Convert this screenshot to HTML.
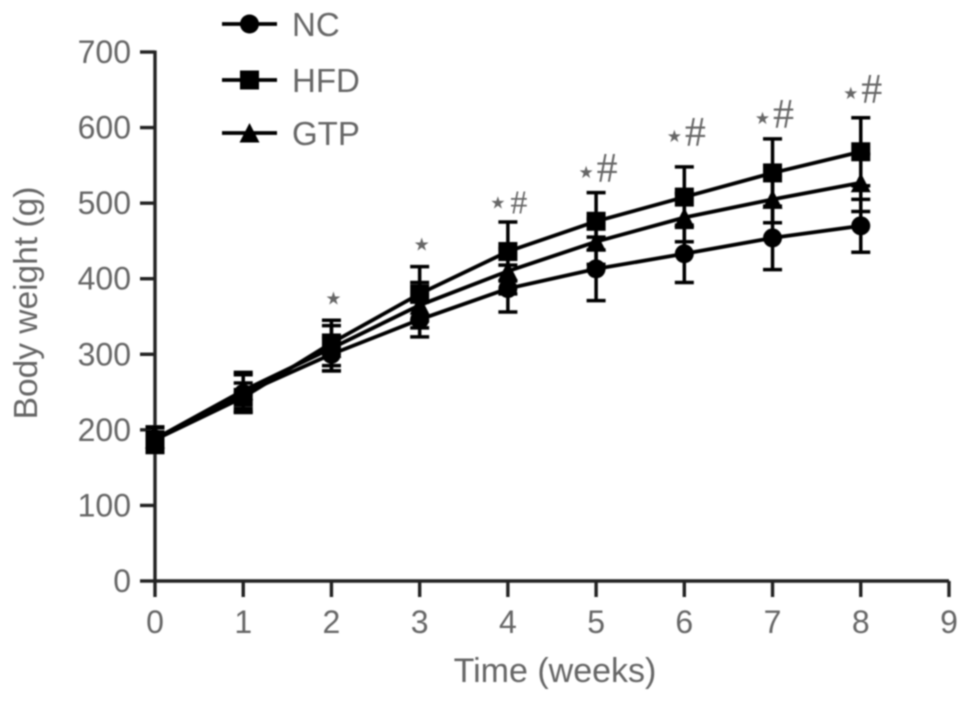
<!DOCTYPE html>
<html>
<head>
<meta charset="utf-8">
<style>
html,body{margin:0;padding:0;background:#fff;width:969px;height:701px;overflow:hidden}
svg{display:block}
text{font-family:"Liberation Sans",sans-serif;fill:#666}
</style>
</head>
<body>
<svg id="chart" width="969" height="701" viewBox="0 0 969 701" xmlns="http://www.w3.org/2000/svg">
<defs><filter id="soft" x="-5%" y="-5%" width="110%" height="110%"><feGaussianBlur stdDeviation="0.7"/></filter></defs>
<g id="root" filter="url(#soft)"></g>
</svg>
<script>
const weeks = [0,1,2,3,4,5,6,7,8];
const xTicks = [0,1,2,3,4,5,6,7,8,9];
const yTicks = [0,100,200,300,400,500,600,700];
const ncValues = [188,248,300,346,387,413,433,454,470];
const ncErrors = [15,25,22,23,31,42,38,42,35];
const hfdValues = [187,243,315,380,436,476,508,540,568];
const hfdErrors = [17,19,30,36,39,38,40,45,45];
const gtpValues = [188,252,308,365,410,449,481,505,527];
const gtpErrors = [15,24,30,30,30,30,32,31,38];
const sigWeeks = [2,3,4,5,6,7,8];
const sigLabels = ['*','*','*#','*#','*#','*#','*#'];
const sigLevels = [374,445,501,541,589,613,646];

const NS = 'http://www.w3.org/2000/svg';
const root = document.getElementById('root');
const xScale = v => 155 + v * 88.22;
const yScale = v => 581 - v * 0.7557;

function mk(tag, attrs, parent){
  const el = document.createElementNS(NS, tag);
  for (const k in attrs) el.setAttribute(k, attrs[k]);
  (parent || root).appendChild(el);
  return el;
}
function drawMarker(shape, cx, cy, parent){
  if (shape === 'circle') return mk('circle', {cx:cx, cy:cy, r:9.5, fill:'#000'}, parent);
  if (shape === 'square') return mk('rect', {x:cx-9.5, y:cy-9.5, width:19, height:19, fill:'#000'}, parent);
  return mk('polygon', {points:(cx)+','+(cy-10)+' '+(cx+10)+','+(cy+9.5)+' '+(cx-10)+','+(cy+9.5), fill:'#000'}, parent);
}
function drawSeries(name, shape, values, errors){
  const g = mk('g', {});
  
  
  const pts = weeks.map((w,i) => xScale(w) + ',' + yScale(values[i])).join(' ');
  const line = mk('polyline', {points:pts, fill:'none', stroke:'#000', 'stroke-width':3.8}, g);
  
  
  weeks.forEach((w,i) => {
    const x = xScale(w), hi = yScale(values[i] + errors[i]), lo = yScale(values[i] - errors[i]);
    const bar = mk('path', {d:'M'+x+' '+hi+'V'+lo+'M'+(x-9.5)+' '+hi+'H'+(x+9.5)+'M'+(x-9.5)+' '+lo+'H'+(x+9.5), fill:'none', stroke:'#000', 'stroke-width':3.5}, g);
    
    
    const m = drawMarker(shape, x, yScale(values[i]), g);
    
    
  });
}

/* axes */
const xAxis = mk('path', {d:'M155 581H949', stroke:'#222', 'stroke-width':3.4, fill:'none'});


const yAxis = mk('path', {d:'M155 50.5V581', stroke:'#222', 'stroke-width':3.4, fill:'none'});



xTicks.forEach(t => {
  const x = xScale(t);
  const tick = mk('path', {d:'M'+x+' 581V597', stroke:'#222', 'stroke-width':3.4});
  
  
  const lab = mk('text', {x:x, y:633, 'font-size':32, 'text-anchor':'middle'});
  lab.textContent = t;
  
  
});
yTicks.forEach(t => {
  const y = yScale(t);
  const tick = mk('path', {d:'M140 '+y+'H155', stroke:'#222', 'stroke-width':3.4});
  
  
  const lab = mk('text', {x:131, y:y+11, 'font-size':32, 'text-anchor':'end'});
  lab.textContent = t;
  
  
});

const xTitle = mk('text', {x:555, y:682, 'font-size':34, 'text-anchor':'middle'});
xTitle.textContent = 'Time (weeks)';


const yTitle = mk('text', {x:0, y:0, 'font-size':33.5, 'text-anchor':'middle', transform:'translate(37,303) rotate(-90)'});
yTitle.textContent = 'Body weight (g)';



/* series */
drawSeries('nc', 'circle', ncValues, ncErrors);
drawSeries('hfd', 'square', hfdValues, hfdErrors);
drawSeries('gtp', 'triangle', gtpValues, gtpErrors);

/* significance markers */
sigWeeks.forEach((w,i) => {
  const x = xScale(w), y = yScale(sigLevels[i]);
  const hasHash = sigLabels[i].length > 1;
  const star = mk('text', {x: hasHash ? x-10 : x+2, y: y+6, 'font-size': hasHash ? 17 : 18, 'text-anchor':'middle'});
  star.textContent = '★';
  star.style.fontFamily = '"DejaVu Sans",sans-serif';
  
  
  if (hasHash) {
    const size = i === 2 ? 34 : 42;
    const hash = mk('text', {x:x+11, y:y+(i===2?11:10), 'font-size':size, 'text-anchor':'middle'});
    hash.textContent = '#';
    hash.style.fontFamily = '"Liberation Serif",serif';
    
    
  }
});

/* legend */
const legendNames = ['NC','HFD','GTP'];
const legendShapes = ['circle','square','triangle'];
const legendRows = [24,80,133];
legendNames.forEach((n,i) => {
  const y = legendRows[i];
  const g = mk('g', {});
  
  
  mk('path', {d:'M222 '+y+'H277', stroke:'#000', 'stroke-width':3.8}, g);
  drawMarker(legendShapes[i], 249.5, y, g);
  const t = mk('text', {x:292, y:y+12, 'font-size':33}, g);
  t.textContent = n;
});
</script>
</body>
</html>
